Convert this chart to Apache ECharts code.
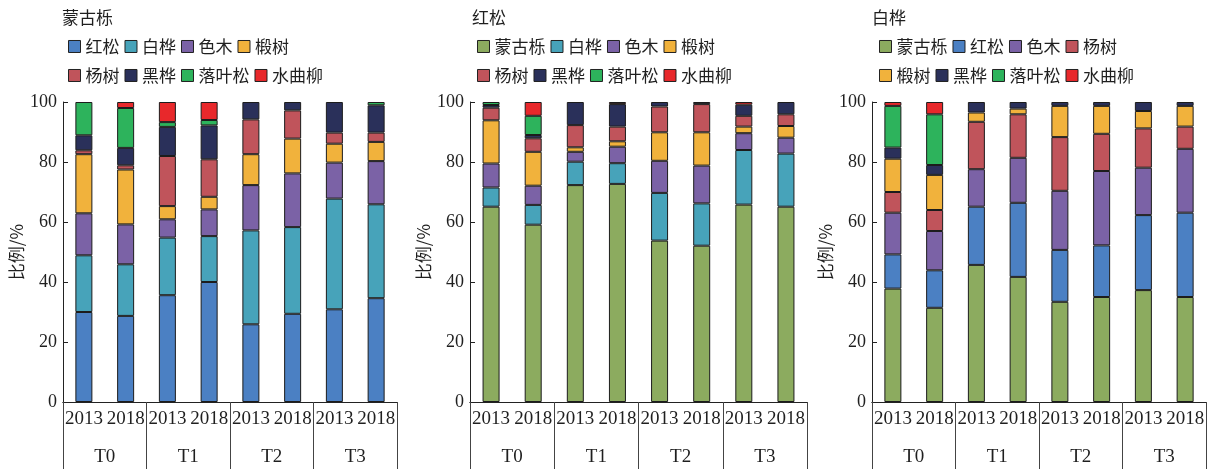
<!DOCTYPE html>
<html>
<head>
<meta charset="utf-8">
<script src="https://cdn.jsdelivr.net/npm/echarts@6/dist/echarts.min.js"></script>
<style>
  html, body { margin: 0; padding: 0; background: #fff; }
  #chart { width: 1214px; height: 469px; }
</style>
</head>
<body>
<div id="chart"></div>
<script>
// Category labels
const years = ['2013', '2018', '2013', '2018', '2013', '2018', '2013', '2018'];
const plots = ['T0', 'T1', 'T2', 'T3'];
const panelTitles = ['蒙古栎', '红松', '白桦'];

// Species composition (%) — 蒙古栎 stand, bars: T0-2013, T0-2018, T1-2013 ... T3-2018
const oak_redPine   = [30.0, 28.7, 35.6, 40.0, 25.9, 29.4, 30.9, 34.6];
const oak_birch     = [18.9, 17.2, 19.2, 15.3, 31.3, 28.9, 36.9, 31.3];
const oak_maple     = [14.0, 13.3, 6.1, 8.9, 15.1, 17.9, 12.0, 14.4];
const oak_linden    = [19.7, 18.3, 4.4, 4.2, 10.3, 11.6, 6.3, 6.4];
const oak_poplar    = [1.3, 1.4, 16.7, 12.5, 11.6, 9.4, 3.7, 3.1];
const oak_darkBirch = [5.0, 5.8, 9.7, 11.3, 5.8, 2.8, 10.2, 9.1];
const oak_larch     = [11.1, 13.3, 1.6, 1.8, 0, 0, 0, 1.1];
const oak_ash       = [0, 2.0, 6.7, 6.0, 0, 0, 0, 0];

// 红松 stand
const pine_oak       = [65.1, 59.1, 72.3, 72.7, 53.8, 52.1, 65.8, 65.1];
const pine_birch     = [6.4, 6.6, 7.8, 6.9, 15.9, 14.1, 18.2, 17.7];
const pine_maple     = [8.0, 6.4, 3.3, 5.5, 10.7, 12.6, 5.6, 5.3];
const pine_linden    = [14.4, 11.3, 1.5, 1.8, 9.5, 11.1, 2.2, 3.9];
const pine_poplar    = [4.2, 4.5, 7.4, 4.9, 8.6, 9.4, 3.6, 3.9];
const pine_darkBirch = [0.9, 1.1, 7.7, 7.5, 1.5, 0.7, 3.7, 4.1];
const pine_larch     = [1.0, 6.4, 0, 0, 0, 0, 0, 0];
const pine_ash       = [0, 4.6, 0, 0.7, 0, 0, 0.9, 0];

// 白桦 stand
const birch_oak       = [37.8, 31.4, 45.7, 41.7, 33.4, 35.0, 37.3, 35.0];
const birch_redPine   = [11.4, 12.5, 19.4, 24.7, 17.3, 17.2, 25.0, 28.1];
const birch_maple     = [13.9, 13.1, 12.5, 15.0, 19.7, 24.8, 15.8, 21.3];
const birch_poplar    = [6.9, 7.0, 15.8, 14.5, 17.9, 12.4, 13.1, 7.4];
const birch_linden    = [11.1, 11.7, 3.1, 1.9, 10.4, 9.3, 5.8, 6.9];
const birch_darkBirch = [3.7, 3.3, 3.5, 2.2, 1.3, 1.3, 3.0, 1.3];
const birch_larch     = [13.9, 16.9, 0, 0, 0, 0, 0, 0];
const birch_ash       = [1.3, 4.1, 0, 0, 0, 0, 0, 0];

const yTicks = { min: 0, max: 100, interval: 20 };

const speciesColor = {
  '蒙古栎': '#8cab5f',
  '红松': '#4b80c3',
  '白桦': '#47a3ba',
  '色木': '#7b62a6',
  '椴树': '#f1b23c',
  '杨树': '#c0545b',
  '黑桦': '#2a305a',
  '落叶松': '#2db35c',
  '水曲柳': '#e8282b'
};

const panels = [
  {
    order: ['红松', '白桦', '色木', '椴树', '杨树', '黑桦', '落叶松', '水曲柳'],
    values: [oak_redPine, oak_birch, oak_maple, oak_linden, oak_poplar, oak_darkBirch, oak_larch, oak_ash],
    left: 63, width: 334, titleLeft: 62, legendLeft: 68
  },
  {
    order: ['蒙古栎', '白桦', '色木', '椴树', '杨树', '黑桦', '落叶松', '水曲柳'],
    values: [pine_oak, pine_birch, pine_maple, pine_linden, pine_poplar, pine_darkBirch, pine_larch, pine_ash],
    left: 470, width: 337, titleLeft: 472, legendLeft: 477
  },
  {
    order: ['蒙古栎', '红松', '色木', '杨树', '椴树', '黑桦', '落叶松', '水曲柳'],
    values: [birch_oak, birch_redPine, birch_maple, birch_poplar, birch_linden, birch_darkBirch, birch_larch, birch_ash],
    left: 872, width: 334, titleLeft: 872, legendLeft: 879
  }
];

const serif = '"Liberation Serif", "Times New Roman", serif';
const cjk = '"Noto Sans CJK SC", sans-serif';
const ink = '#1f1f1f';
const gridTop = 102, gridHeight = 300;

const option = {
  animation: false,
  backgroundColor: '#fff',
  title: [], legend: [], grid: [], xAxis: [], yAxis: [], series: []
};

panels.forEach((p, i) => {
  option.title.push({
    text: panelTitles[i], left: p.titleLeft, top: 9, padding: 0,
    textStyle: { fontFamily: cjk, fontSize: 17, fontWeight: 'normal', color: ink }
  });
  [p.order.slice(0, 4), p.order.slice(4)].forEach((names, row) => {
    option.legend.push({
      data: names, left: p.legendLeft, top: row === 0 ? 38 : 67, padding: 0,
      orient: 'horizontal', icon: 'rect', itemWidth: 12, itemHeight: 12, itemGap: 5,
      selectedMode: false,
      itemStyle: { borderColor: '#222', borderWidth: 1 },
      textStyle: { fontFamily: cjk, fontSize: 17, color: ink, width: 56, overflow: 'none' }
    });
  });
  option.grid.push({ left: p.left, width: p.width, top: gridTop, height: gridHeight, containLabel: false });
  option.xAxis.push({
    type: 'category', gridIndex: i, data: years, position: 'bottom',
    axisLine: { lineStyle: { color: '#222', width: 1 } },
    axisTick: { show: false },
    axisLabel: { interval: 0, margin: 8, fontFamily: serif, fontSize: 19, color: ink }
  });
  option.xAxis.push({
    type: 'category', gridIndex: i, data: plots, position: 'bottom',
    axisLine: { show: true, lineStyle: { color: '#222', width: 1 } },
    axisTick: { show: true, interval: 0, length: 67, lineStyle: { color: '#444', width: 1 } },
    axisLabel: { interval: 0, margin: 46, fontFamily: serif, fontSize: 19, color: ink }
  });
  option.yAxis.push({
    type: 'value', gridIndex: i, min: yTicks.min, max: yTicks.max, interval: yTicks.interval,
    name: '比例/%', nameLocation: 'middle', nameGap: 38, nameRotate: 90,
    nameTextStyle: { fontFamily: cjk, fontSize: 17, color: ink },
    axisLine: { show: true, lineStyle: { color: '#222', width: 1 } },
    axisTick: { show: true, inside: true, length: 5, lineStyle: { color: '#222' } },
    splitLine: { show: false },
    axisLabel: { margin: 6, fontFamily: serif, fontSize: 18, color: ink }
  });
  p.order.forEach((name, k) => {
    option.series.push({
      name, type: 'bar', stack: 'panel' + i,
      xAxisIndex: i * 2, yAxisIndex: i,
      barWidth: 17,
      itemStyle: { color: speciesColor[name], borderColor: '#1c1c1c', borderWidth: 1 },
      data: p.values[k].map(v => (v > 0 ? v : null))
    });
  });
});

const chart = echarts.init(document.getElementById('chart'), null, { renderer: 'canvas' });
chart.setOption(option);
</script>
</body>
</html>
